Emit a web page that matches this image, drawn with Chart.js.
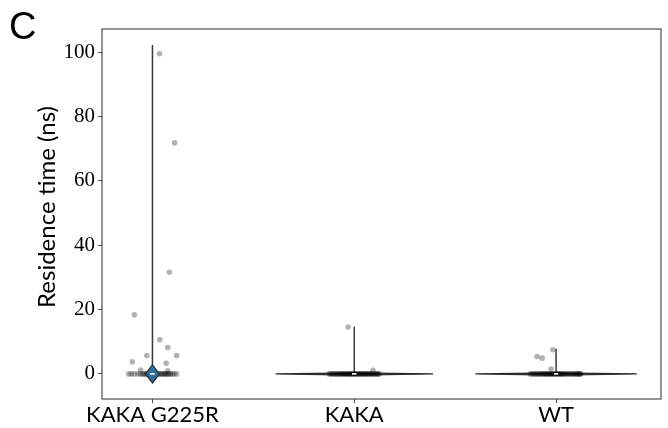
<!DOCTYPE html>
<html>
<head>
<meta charset="utf-8">
<script src="https://cdn.jsdelivr.net/npm/chart.js@4"></script>
<style>
  html, body { margin: 0; padding: 0; background: #fff; }
  canvas { display: block; }
</style>
</head>
<body>
<canvas id="residenceChart" width="668" height="428"></canvas>
<script>
const categories = ['KAKA G225R', 'KAKA', 'WT'];
const yTicks = [0, 20, 40, 60, 80, 100];

// non-zero residence times (ns) and their horizontal jitter (category units)
const g225rTimes  = [99.5, 71.8, 31.6, 18.4, 10.6, 8.2, 5.7, 5.7, 3.8, 3.3, 1.2, 1.0];
const g225rJitter = [0.035, 0.11, 0.084, -0.089, 0.036, 0.076, -0.028, 0.12, -0.10, 0.068, -0.059, 0.076];
const kakaTimes   = [14.6, 1.1];
const kakaJitter  = [-0.03, 0.093];
const wtTimes     = [7.5, 5.4, 4.9, 1.5];
const wtJitter    = [-0.016, -0.094, -0.069, -0.025];

// jitter of the many events at 0 ns
const g225rZeroJitter = [-0.118, -0.105, -0.09, -0.072, -0.06, -0.05, -0.042, -0.035, -0.028, -0.022,
                         -0.016, -0.01, -0.004, 0.004, 0.01, 0.018, 0.024, 0.03, 0.038, 0.046,
                         0.052, 0.058, 0.064, 0.07, 0.076, 0.082, 0.09, 0.098, 0.108, 0.12];
const kakaZeroJitter  = [-0.124, -0.116, -0.11, -0.1, -0.095, -0.086, -0.08, -0.072, -0.066, -0.06,
                         -0.055, -0.048, -0.042, -0.036, -0.03, -0.024, -0.02, -0.014, -0.008, -0.003,
                         0.002, 0.008, 0.014, 0.02, 0.026, 0.032, 0.038, 0.044, 0.05, 0.056,
                         0.062, 0.068, 0.074, 0.08, 0.086, 0.092, 0.1, 0.106, 0.112, 0.118, 0.124];
const wtZeroJitter    = [-0.128, -0.12, -0.112, -0.104, -0.096, -0.088, -0.08, -0.074, -0.066, -0.06,
                         -0.054, -0.048, -0.042, -0.036, -0.03, -0.024, -0.018, -0.012, -0.006, 0.0,
                         0.006, 0.012, 0.018, 0.024, 0.03, 0.036, 0.042, 0.05, 0.058, 0.066,
                         0.074, 0.082, 0.09, 0.096, 0.102, 0.108, 0.114, 0.118, 0.122];

// violin outline
const violinMax = [102.2, 14.7, 7.8];
const violinHalfWidth = [0.035, 0.39, 0.4];
const violinBulge = [2.8, 0.35, 0.35];

const stripTimes = [g225rTimes, kakaTimes, wtTimes];
const stripJitter = [g225rJitter, kakaJitter, wtJitter];
const zeroJitter = [g225rZeroJitter, kakaZeroJitter, wtZeroJitter];

function stripData(i) {
    const pts = stripTimes[i].map((t, k) => ({ x: i + stripJitter[i][k], y: t }));
    zeroJitter[i].forEach(j => pts.push({ x: i + j, y: 0 }));
    return pts;
}

function violinBody(i) {
    const hw = violinHalfWidth[i], b = violinBulge[i];
    return {
        data: [
            { x: i - hw, y: 0 }, { x: i, y: b }, { x: i + hw, y: 0 },
            { x: i, y: -b }, { x: i - hw, y: 0 }
        ],
        showLine: true,
        fill: 'shape',
        backgroundColor: '#2f6d9c',
        borderColor: '#2b2b2b',
        borderWidth: 1.2,
        pointRadius: 0
    };
}

// first dataset is drawn on top
const datasets = [];

datasets.push({
    data: categories.map((c, i) => ({ x: i, y: 0 })),
    pointStyle: 'line',
    pointRadius: 2.2,
    borderColor: '#ffffff',
    borderWidth: 1.6,
    showLine: false
});

datasets.push(violinBody(0));

categories.forEach((c, i) => {
    datasets.push({
        data: stripData(i),
        pointRadius: 2.8,
        pointBorderWidth: 0,
        backgroundColor: 'rgba(0, 0, 0, 0.3)',
        borderColor: 'rgba(0, 0, 0, 0)',
        showLine: false
    });
});

categories.forEach((c, i) => {
    datasets.push({
        data: [{ x: i, y: 0 }, { x: i, y: violinMax[i] }],
        showLine: true,
        borderColor: '#3a3a3a',
        borderWidth: 1.5,
        pointRadius: 0
    });
});

datasets.push(violinBody(1));
datasets.push(violinBody(2));

const framePlugin = {
    id: 'frame',
    afterDraw(chart) {
        const { ctx, chartArea: a } = chart;
        ctx.save();
        ctx.strokeStyle = '#4d4d4d';
        ctx.lineWidth = 1.2;
        ctx.strokeRect(a.left, a.top, a.right - a.left, a.bottom - a.top);

        ctx.fillStyle = '#000';
        ctx.font = '38px "Liberation Sans"';
        ctx.textBaseline = 'alphabetic';
        ctx.textAlign = 'left';
        ctx.fillText('C', 9, 39);

        ctx.translate(47, 207);
        ctx.rotate(-Math.PI / 2);
        ctx.textAlign = 'center';
        ctx.textBaseline = 'middle';
        ctx.font = '24px Lato';
        ctx.fillText('Residence time (ns)', 0, 0);
        ctx.restore();
    }
};

new Chart(document.getElementById('residenceChart'), {
    type: 'scatter',
    data: { datasets },
    options: {
        responsive: false,
        animation: false,
        events: [],
        layout: { padding: { left: 0, top: 29, right: 7, bottom: 0 } },
        plugins: { legend: { display: false }, tooltip: { enabled: false } },
        scales: {
            x: {
                type: 'linear',
                min: -0.25,
                max: 2.52,
                afterBuildTicks: s => { s.ticks = categories.map((c, i) => ({ value: i })); },
                afterFit: s => { s.height = 29; },
                ticks: {
                    callback: v => categories[v],
                    color: '#000',
                    padding: -1,
                    maxRotation: 0,
                    font: { family: 'Lato', size: 22 }
                },
                grid: { drawOnChartArea: false, tickLength: 4, color: '#4d4d4d' },
                border: { display: false }
            },
            y: {
                min: -7.8,
                max: 107.2,
                afterBuildTicks: s => { s.ticks = yTicks.map(v => ({ value: v })); },
                afterFit: s => { s.width = 102; },
                ticks: {
                    color: '#000',
                    padding: 3,
                    font: { family: 'Liberation Serif', size: 21 }
                },
                grid: { drawOnChartArea: false, tickLength: 4, color: '#4d4d4d' },
                border: { display: false }
            }
        }
    },
    plugins: [framePlugin]
});
</script>
</body>
</html>
